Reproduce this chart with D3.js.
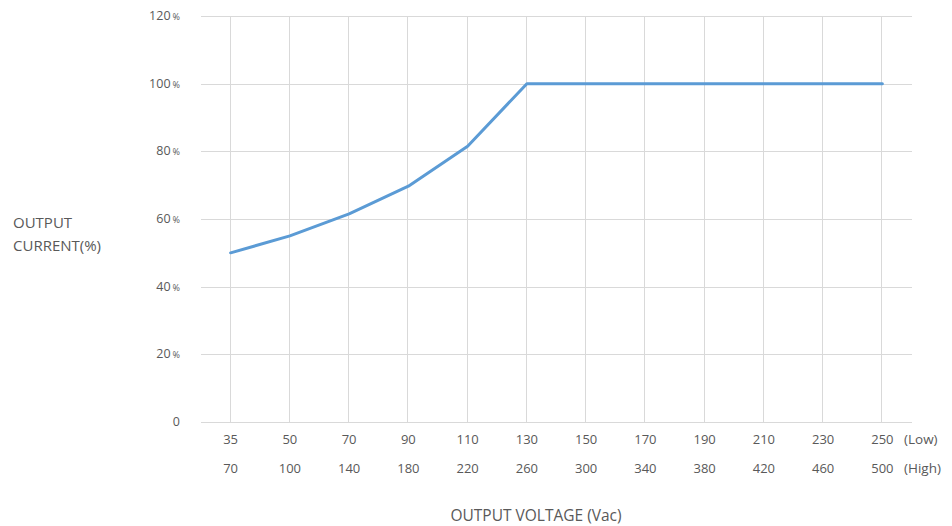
<!DOCTYPE html>
<html>
<head>
<meta charset="utf-8">
<script src="https://cdn.jsdelivr.net/npm/d3@7"></script>
<style>
  body { margin: 0; background: #fff; }
  text { font-family: "Open Sans", "Noto Sans", sans-serif; fill: #595959; }
</style>
</head>
<body>
<div id="root"></div>
<script>
const lowVolts = [35, 50, 70, 90, 110, 130, 150, 170, 190, 210, 230, 250];
const highVolts = [70, 100, 140, 180, 220, 260, 300, 340, 380, 420, 460, 500];
const currentPct = [50, 55, 61.5, 69.7, 81.5, 100, 100, 100, 100, 100, 100, 100];
const yTicks = [0, 20, 40, 60, 80, 100, 120];

const width = 952;
const height = 526;
const margin = { left: 201, right: 40, top: 16, bottom: 104 };

const svg = d3.select("#root")
  .append("svg")
    .attr("width", width)
    .attr("height", height);

const x = d3.scalePoint()
  .domain(lowVolts)
  .range([margin.left, width - margin.right])
  .padding(0.5);

const y = d3.scaleLinear()
  .domain([0, 120])
  .range([height - margin.bottom, margin.top]);

// grid
svg.append("g")
    .attr("stroke", "#d9d9d9")
    .attr("stroke-width", 1)
  .selectAll("line.h")
  .data(yTicks)
  .join("line")
    .attr("x1", margin.left)
    .attr("x2", width - margin.right)
    .attr("y1", d => Math.round(y(d)) + 0.5)
    .attr("y2", d => Math.round(y(d)) + 0.5);

svg.append("g")
    .attr("stroke", "#d9d9d9")
    .attr("stroke-width", 1)
  .selectAll("line.v")
  .data(lowVolts)
  .join("line")
    .attr("x1", d => Math.round(x(d)) - 0.5)
    .attr("x2", d => Math.round(x(d)) - 0.5)
    .attr("y1", y(120))
    .attr("y2", y(0));

// y tick labels
const yl = svg.append("g")
  .selectAll("text")
  .data(yTicks)
  .join("text")
    .attr("x", 180)
    .attr("y", d => y(d) + 4)
    .attr("text-anchor", "end")
    .attr("font-size", 12.5);
yl.append("tspan").text(d => d === 0 ? "0" : d);
yl.filter(d => d !== 0).append("tspan")
    .attr("font-size", 9)
    .attr("dx", 2)
    .text("%");

// x tick labels
svg.append("g")
  .selectAll("text")
  .data(lowVolts)
  .join("text")
    .attr("x", d => x(d))
    .attr("y", 444)
    .attr("text-anchor", "middle")
    .attr("font-size", 13)
    .text(d => d);

svg.append("g")
  .selectAll("text")
  .data(highVolts)
  .join("text")
    .attr("x", (d, i) => x(lowVolts[i]))
    .attr("y", 473)
    .attr("text-anchor", "middle")
    .attr("font-size", 13)
    .text(d => d);

svg.append("text")
    .attr("x", 904).attr("y", 444)
    .attr("font-size", 13.5)
    .text("(Low)");
svg.append("text")
    .attr("x", 904).attr("y", 473)
    .attr("font-size", 13.5)
    .text("(High)");

// axis titles
svg.append("text")
    .attr("x", 536).attr("y", 521)
    .attr("text-anchor", "middle")
    .attr("font-size", 15.5)
    .text("OUTPUT VOLTAGE (Vac)");

svg.append("text")
    .attr("x", 13).attr("y", 228)
    .attr("font-size", 15)
    .text("OUTPUT");
svg.append("text")
    .attr("x", 13).attr("y", 251)
    .attr("font-size", 15)
    .text("CURRENT(%)");

// line
const line = d3.line()
  .x((d, i) => x(lowVolts[i]))
  .y(d => y(d));

svg.append("path")
    .datum(currentPct)
    .attr("fill", "none")
    .attr("stroke", "#5b9bd5")
    .attr("stroke-width", 3)
    .attr("stroke-linejoin", "round")
    .attr("stroke-linecap", "round")
    .attr("d", line);
</script>
</body>
</html>
